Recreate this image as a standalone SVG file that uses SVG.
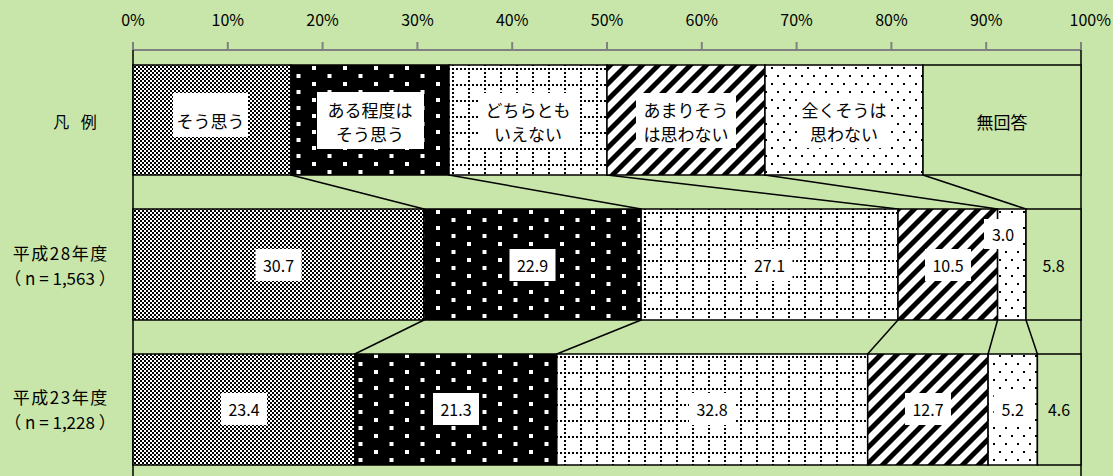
<svg xmlns="http://www.w3.org/2000/svg" width="1113" height="476" viewBox="0 0 1113 476">
<style>
text{font-family:"Noto Sans CJK JP","Noto Sans",sans-serif;fill:#000;}
.ax{font-size:16px;text-anchor:middle;}
.lg{font-size:17px;text-anchor:middle;dominant-baseline:central;}
.dl{font-size:16px;text-anchor:middle;dominant-baseline:central;}
.rl{font-size:16px;text-anchor:middle;dominant-baseline:central;}
.r1{font-size:17px;text-anchor:middle;dominant-baseline:central;letter-spacing:1.5px;}
.r2{font-size:17px;text-anchor:middle;dominant-baseline:central;}
.seg{stroke:#000;stroke-width:1.5;}
.box{fill:#fff;stroke:none;}
.con{stroke:#000;stroke-width:1.5;fill:none;}
.grid{stroke:#808080;stroke-width:2;fill:none;}
</style>
<defs>
<pattern id="pCheck" patternUnits="userSpaceOnUse" width="4" height="4">
<rect width="4" height="4" fill="#fff"/>
<rect x="0" y="0" width="2" height="2" fill="#000"/>
<rect x="2" y="2" width="2" height="2" fill="#000"/>
</pattern>
<pattern id="pBlackDots" patternUnits="userSpaceOnUse" width="31" height="16" x="2" y="2">
<rect width="31" height="16" fill="#000"/>
<rect x="0" y="0" width="4" height="4" fill="#fff"/>
<rect x="15.5" y="8" width="4" height="4" fill="#fff"/>
</pattern>
<pattern id="pGrid" patternUnits="userSpaceOnUse" width="16" height="16" x="4" y="4">
<rect width="16" height="16" fill="#fff"/>
<rect x="0" y="0" width="2" height="2" fill="#000"/>
<rect x="4" y="0" width="2" height="2" fill="#000"/>
<rect x="8" y="0" width="2" height="2" fill="#000"/>
<rect x="12" y="0" width="2" height="2" fill="#000"/>
<rect x="0" y="4" width="2" height="2" fill="#000"/>
<rect x="0" y="8" width="2" height="2" fill="#000"/>
<rect x="0" y="12" width="2" height="2" fill="#000"/>
</pattern>
<pattern id="pDiag" patternUnits="userSpaceOnUse" width="16" height="16">
<rect width="16" height="16" fill="#fff"/>
<polygon points="0,0 7,0 0,7" fill="#000"/>
<polygon points="0,16 16,0 16,7 7,16" fill="#000"/>
</pattern>
<pattern id="pSparse" patternUnits="userSpaceOnUse" width="12" height="16" x="3" y="3">
<rect width="12" height="16" fill="#fff"/>
<rect x="0" y="0" width="2" height="2" fill="#000"/>
<rect x="6" y="8" width="2" height="2" fill="#000"/>
</pattern>
</defs>
<rect width="1113" height="476" fill="#C8E6AA"/>

<g id="axis">
<line class="grid" x1="133" y1="50" x2="1081" y2="50"/>
<path class="grid" d="M133,42V50M227.8,42V50M322.6,42V50M417.4,42V50M512.2,42V50M607,42V50M701.8,42V50M796.6,42V50M891.4,42V50M986.2,42V50M1081,42V50"/>
<text class="ax" x="133" y="26">0%</text>
<text class="ax" x="227.8" y="26">10%</text>
<text class="ax" x="322.6" y="26">20%</text>
<text class="ax" x="417.4" y="26">30%</text>
<text class="ax" x="512.2" y="26">40%</text>
<text class="ax" x="607" y="26">50%</text>
<text class="ax" x="701.8" y="26">60%</text>
<text class="ax" x="796.6" y="26">70%</text>
<text class="ax" x="891.4" y="26">80%</text>
<text class="ax" x="986.2" y="26">90%</text>
<text class="ax" x="1111" y="26" style="text-anchor:end">100%</text>
<line x1="133" y1="50" x2="133" y2="476" stroke="#000" stroke-width="1.5"/>
<line x1="1081" y1="50" x2="1081" y2="476" stroke="#000" stroke-width="1.5"/>
</g>

<g id="connectors">
<line class="con" x1="291" y1="175" x2="424" y2="209"/>
<line class="con" x1="449" y1="175" x2="641.1" y2="209"/>
<line class="con" x1="607" y1="175" x2="898" y2="209"/>
<line class="con" x1="765" y1="175" x2="997.6" y2="209"/>
<line class="con" x1="923" y1="175" x2="1026" y2="209"/>
<line class="con" x1="424" y1="320" x2="354.8" y2="354"/>
<line class="con" x1="641.1" y1="320" x2="556.8" y2="354"/>
<line class="con" x1="898" y1="320" x2="867.7" y2="354"/>
<line class="con" x1="997.6" y1="320" x2="988.1" y2="354"/>
<line class="con" x1="1026" y1="320" x2="1037.4" y2="354"/>
</g>

<g id="legend-label"><text class="rl" x="75" y="121" style="word-spacing:8px">凡 例</text></g>

<g id="legend-1">
<rect class="seg" x="133" y="65" width="158" height="110" fill="url(#pCheck)"/>
<rect class="box" x="173" y="93" width="75" height="44"/>
<text class="lg" x="210.5" y="120">そう思う</text>
</g>
<g id="legend-2">
<rect class="seg" x="291" y="65" width="158" height="110" fill="url(#pBlackDots)"/>
<rect class="box" x="317" y="92" width="107" height="57"/>
<text class="lg" x="370" y="109">ある程度は</text>
<text class="lg" x="370" y="133">そう思う</text>
</g>
<g id="legend-3">
<rect class="seg" x="449" y="65" width="158" height="110" fill="url(#pGrid)"/>
<rect class="box" x="479" y="93" width="99" height="55"/>
<text class="lg" x="528" y="109">どちらとも</text>
<text class="lg" x="528" y="133">いえない</text>
</g>
<g id="legend-4">
<rect class="seg" x="607" y="65" width="158" height="110" fill="url(#pDiag)"/>
<rect class="box" x="636" y="93" width="100" height="55"/>
<text class="lg" x="686" y="109">あまりそう</text>
<text class="lg" x="686" y="133">は思わない</text>
</g>
<g id="legend-5">
<rect class="seg" x="765" y="65" width="158" height="110" fill="url(#pSparse)"/>
<rect class="box" x="798" y="93" width="92" height="55"/>
<text class="lg" x="844" y="109">全くそうは</text>
<text class="lg" x="844" y="133">思わない</text>
</g>
<g id="legend-6">
<rect class="seg" x="923" y="65" width="158" height="110" fill="#C8E6AA"/>
<text class="lg" x="1002" y="121">無回答</text>
</g>

<g id="row-h28-label">
<text class="r1" x="60.75" y="252">平成28年度</text>
<text class="r2" x="60" y="277">（ n = 1,563 ）</text>
</g>
<g id="h28-1">
<rect class="seg" x="133" y="209" width="291" height="111" fill="url(#pCheck)"/>
<rect class="box" x="255.5" y="249" width="46" height="32"/>
<text class="dl" x="278.5" y="265">30.7</text>
</g>
<g id="h28-2">
<rect class="seg" x="424" y="209" width="217.1" height="111" fill="url(#pBlackDots)"/>
<rect class="box" x="509.5" y="249" width="46" height="32"/>
<text class="dl" x="532.5" y="265">22.9</text>
</g>
<g id="h28-3">
<rect class="seg" x="641.1" y="209" width="256.9" height="111" fill="url(#pGrid)"/>
<rect class="box" x="746.5" y="249" width="46" height="32"/>
<text class="dl" x="769.5" y="265">27.1</text>
</g>
<g id="h28-4">
<rect class="seg" x="898" y="209" width="99.6" height="111" fill="url(#pDiag)"/>
<rect class="box" x="925" y="249" width="46" height="32"/>
<text class="dl" x="948" y="265">10.5</text>
</g>
<g id="h28-5">
<rect class="seg" x="997.6" y="209" width="28.4" height="111" fill="url(#pSparse)"/>
<rect class="box" x="984" y="219" width="38" height="30"/>
<text class="dl" x="1003" y="234">3.0</text>
</g>
<g id="h28-6">
<rect class="seg" x="1026" y="209" width="55" height="111" fill="#C8E6AA"/>
<text class="dl" x="1053.5" y="265">5.8</text>
</g>

<g id="row-h23-label">
<text class="r1" x="60.75" y="396.5">平成23年度</text>
<text class="r2" x="60" y="421.5">（ n = 1,228 ）</text>
</g>
<g id="h23-1">
<rect class="seg" x="133" y="354" width="221.8" height="111" fill="url(#pCheck)"/>
<rect class="box" x="221" y="393" width="46" height="32"/>
<text class="dl" x="244" y="409">23.4</text>
</g>
<g id="h23-2">
<rect class="seg" x="354.8" y="354" width="202" height="111" fill="url(#pBlackDots)"/>
<rect class="box" x="433" y="393" width="46" height="32"/>
<text class="dl" x="456" y="409">21.3</text>
</g>
<g id="h23-3">
<rect class="seg" x="556.8" y="354" width="310.9" height="111" fill="url(#pGrid)"/>
<rect class="box" x="689" y="393" width="46" height="32"/>
<text class="dl" x="712" y="409">32.8</text>
</g>
<g id="h23-4">
<rect class="seg" x="867.7" y="354" width="120.4" height="111" fill="url(#pDiag)"/>
<rect class="box" x="905" y="393" width="46" height="32"/>
<text class="dl" x="928" y="409">12.7</text>
</g>
<g id="h23-5">
<rect class="seg" x="988.1" y="354" width="49.3" height="111" fill="url(#pSparse)"/>
<rect class="box" x="993.7" y="393" width="38" height="32"/>
<text class="dl" x="1012.7" y="409">5.2</text>
</g>
<g id="h23-6">
<rect class="seg" x="1037.4" y="354" width="43.6" height="111" fill="#C8E6AA"/>
<text class="dl" x="1059" y="409">4.6</text>
</g>
</svg>
